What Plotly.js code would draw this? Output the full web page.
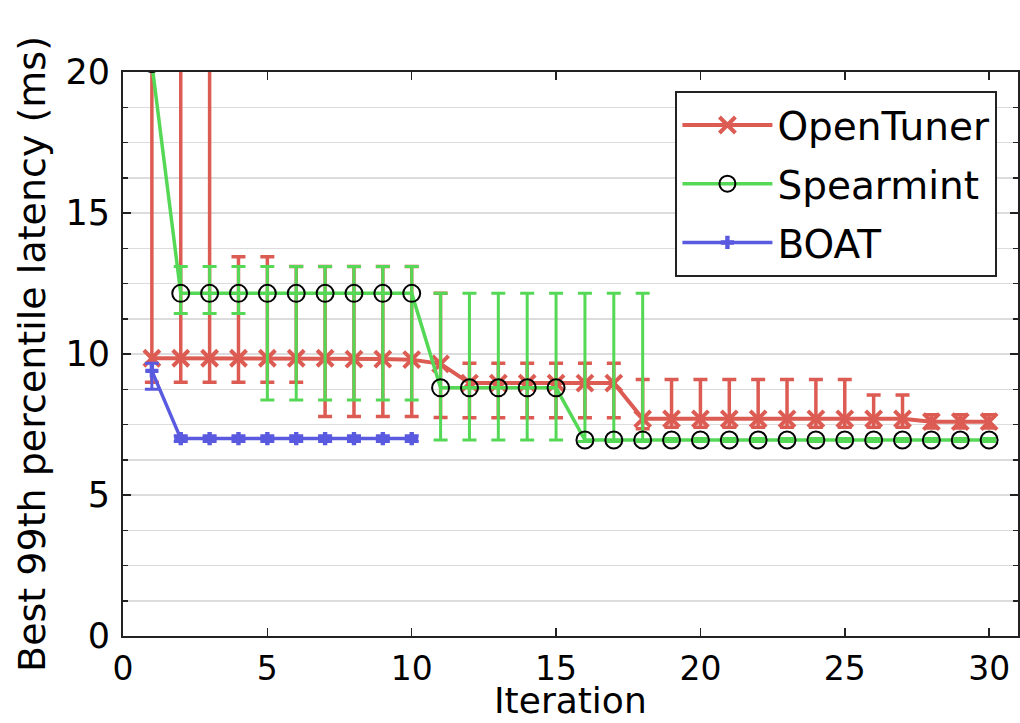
<!DOCTYPE html>
<html>
<head>
<meta charset="utf-8">
<script src="https://cdn.plot.ly/plotly-3.0.1.min.js"></script>
<style>html,body{margin:0;padding:0;background:#fff;}#chart{width:1020px;height:723px;}</style>
</head>
<body>
<div id="chart"></div>
<script>
// Iterations
const iterations = [1,2,3,4,5,6,7,8,9,10,11,12,13,14,15,16,17,18,19,20,21,22,23,24,25,26,27,28,29,30];
const boatIterations = [1,2,3,4,5,6,7,8,9,10];

// OpenTuner
const openTunerMean  = [9.85,9.85,9.85,9.85,9.85,9.85,9.85,9.82,9.82,9.8,9.65,8.97,8.97,8.97,8.97,8.97,8.97,7.7,7.7,7.7,7.7,7.7,7.7,7.7,7.7,7.7,7.7,7.6,7.6,7.6];
const openTunerUpper = [15,15,15,3.6,3.6,3.25,3.25,3.28,3.28,3.3,2.5,0.7,0.7,0.7,0.7,0.7,0.7,1.4,1.4,1.4,1.4,1.4,1.4,1.4,1.4,0.85,0.85,0.25,0.25,0.25];
const openTunerLower = [0.85,0.85,0.85,0.85,0.85,0.85,2.07,2.04,2.04,2.02,1.9,1.23,1.23,1.23,1.23,1.23,1.23,0.35,0.3,0.3,0.3,0.3,0.3,0.3,0.3,0.3,0.3,0.22,0.22,0.22];

// Spearmint
const spearmintMean  = [20.3,12.15,12.15,12.15,12.15,12.15,12.15,12.15,12.15,12.15,8.8,8.8,8.8,8.8,8.8,6.95,6.95,6.95,6.95,6.95,6.95,6.95,6.95,6.95,6.95,6.95,6.95,6.95,6.95,6.95];
const spearmintUpper = [0,0.95,0.95,0.95,0.95,0.95,0.95,0.95,0.95,0.95,3.35,3.35,3.35,3.35,3.35,5.2,5.2,5.2,0.05,0.05,0.05,0.05,0.05,0.05,0.05,0.05,0.05,0.05,0.05,0.05];
const spearmintLower = [0,0.71,0.71,0.71,3.78,3.78,3.78,3.78,3.78,3.78,1.85,1.85,1.85,1.85,1.85,0.05,0.05,0.05,0.05,0.05,0.05,0.05,0.05,0.05,0.05,0.05,0.05,0.05,0.05,0.05];

// BOAT
const boatMean  = [9.4,7.0,7.0,7.0,7.0,7.0,7.0,7.0,7.0,7.0];
const boatUpper = [0.27,0.1,0.1,0.1,0.1,0.1,0.1,0.1,0.1,0.1];
const boatLower = [0.65,0.1,0.1,0.1,0.1,0.1,0.1,0.1,0.1,0.1];

const xTicks = [0,5,10,15,20,25,30];
const yTicks = [0,5,10,15,20];
const xTitle = 'Iteration';
const yTitle = 'Best 99th percentile latency (ms)';

const RED = '#dc5c53', GREEN = '#55d855', BLUE = '#5a5ae0';
const FONT = 'DejaVu Sans, sans-serif';

const traces = [
  {
    x: iterations, y: openTunerMean, name: 'OpenTuner', legendgroup: 'a', type: 'scatter', mode: 'lines+markers',
    line: {color: RED, width: 4},
    marker: {symbol: 'x-thin-open', size: 16, color: RED, line: {width: 4, color: RED}},
    error_y: {type: 'data', symmetric: false, array: openTunerUpper, arrayminus: openTunerLower,
              color: RED, thickness: 3.5, width: 7}
  },
  {
    x: iterations, y: spearmintMean, name: 'Spearmint', legendgroup: 'b', type: 'scatter', mode: 'lines+markers',
    line: {color: GREEN, width: 3.5},
    marker: {symbol: 'circle-open', size: 17, color: '#000', line: {width: 2, color: '#000'}},
    error_y: {type: 'data', symmetric: false, array: spearmintUpper, arrayminus: spearmintLower,
              color: GREEN, thickness: 3, width: 7}
  },
  {
    x: boatIterations, y: boatMean, name: 'BOAT', legendgroup: 'c', type: 'scatter', mode: 'lines+markers',
    line: {color: BLUE, width: 3.5},
    marker: {symbol: 'cross', size: 11, color: BLUE},
    error_y: {type: 'data', symmetric: false, array: boatUpper, arrayminus: boatLower,
              color: BLUE, thickness: 3, width: 7}
  }
];

const layout = {
  width: 1020, height: 723,
  margin: {l: 123, r: 2, t: 72, b: 87},
  paper_bgcolor: '#fff', plot_bgcolor: '#fff',
  font: {family: FONT, size: 34, color: '#000'},
  showlegend: true,
  legend: {
    x: 0.977, y: 0.966, xanchor: 'right', yanchor: 'top',
    bgcolor: '#fff', bordercolor: '#222', borderwidth: 2,
    font: {family: FONT, size: 39, color: '#000'},
    itemwidth: 90, tracegroupgap: 5
  },
  xaxis: {
    range: [0, 31], tickvals: xTicks, ticktext: xTicks.map(String),
    ticks: 'inside', ticklen: 8, tickwidth: 1.5, tickcolor: '#222',
    showline: true, linecolor: '#222', linewidth: 2, mirror: 'ticks',
    showgrid: false, zeroline: false,
    tickfont: {family: FONT, size: 33},
    ticklabelstandoff: 2
  },
  yaxis: {
    range: [0, 20], tickvals: yTicks, ticktext: yTicks.map(String),
    ticks: 'inside', ticklen: 8, tickwidth: 1.5, tickcolor: '#222',
    showline: true, linecolor: '#222', linewidth: 2, mirror: 'ticks',
    showgrid: true, gridcolor: '#dcdcdc', gridwidth: 1.5, zeroline: false,
    minor: {dtick: 1.25, tick0: 0, ticks: 'inside', ticklen: 5, tickcolor: '#222', showgrid: true, gridcolor: '#dcdcdc', gridwidth: 1.5},
    tickfont: {family: FONT, size: 35},
    ticklabelstandoff: 4,
    title: {text: yTitle, font: {family: FONT, size: 38}, standoff: 8}
  },
  annotations: [{
    text: xTitle, xref: 'paper', yref: 'paper', x: 0.5, y: -0.1135,
    xanchor: 'center', yanchor: 'middle', showarrow: false,
    font: {family: FONT, size: 36, color: '#000'}
  }]
};

Plotly.newPlot('chart', traces, layout, {displayModeBar: false, staticPlot: true});
</script>
</body>
</html>
